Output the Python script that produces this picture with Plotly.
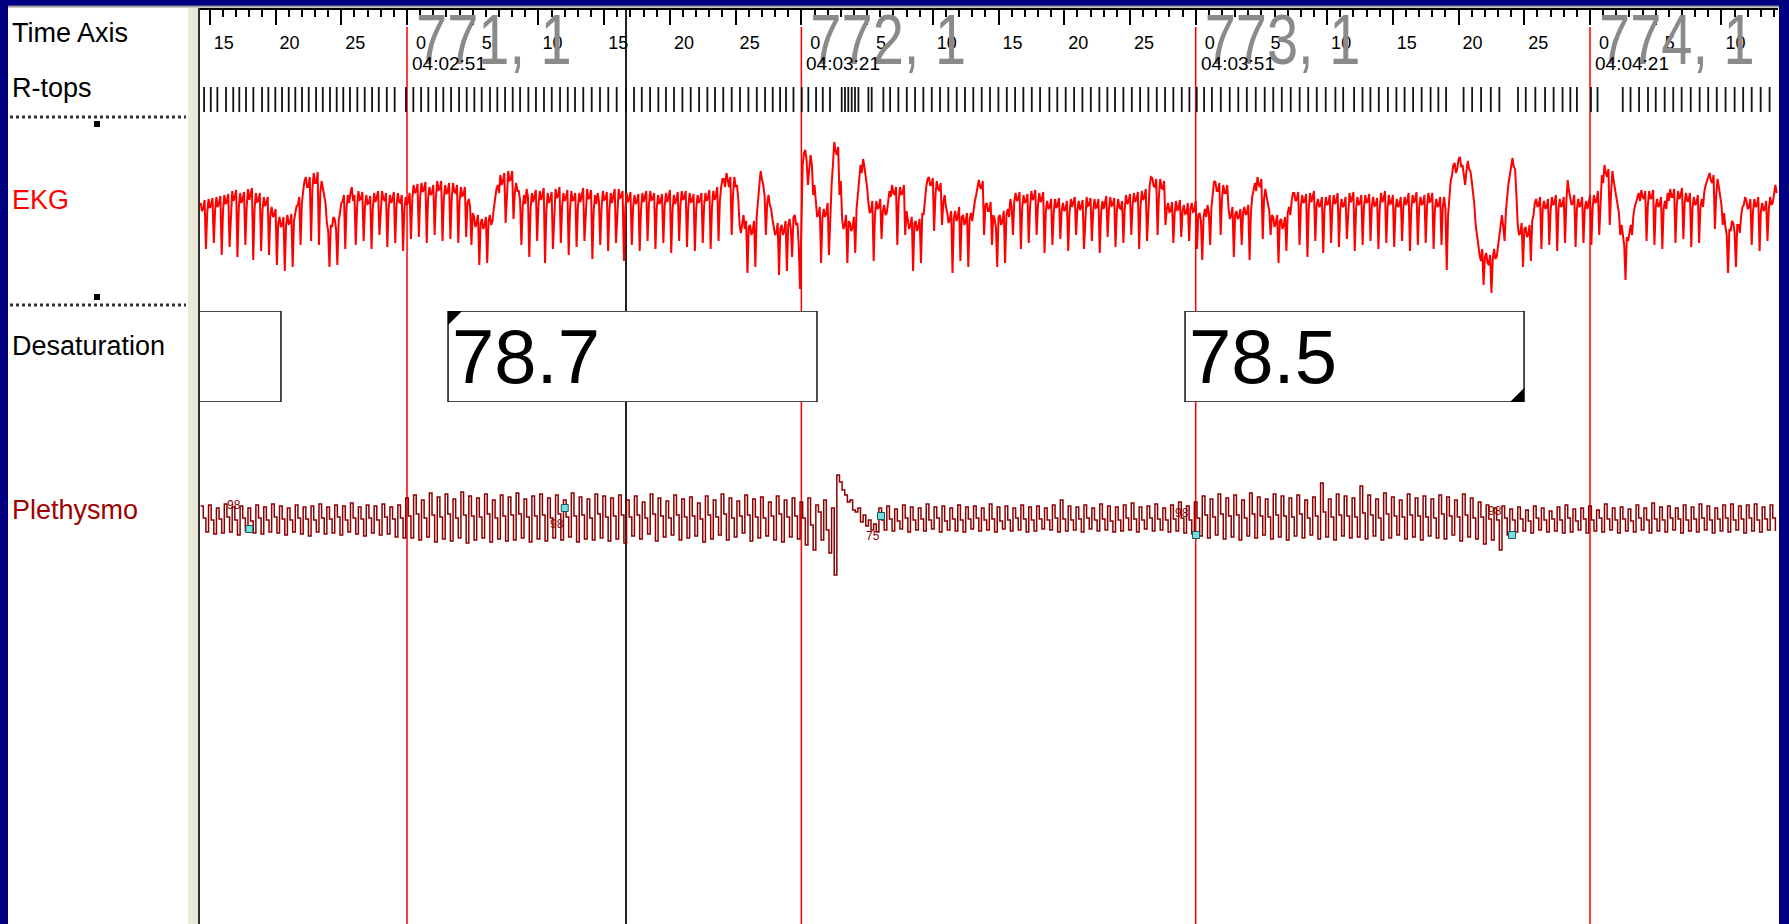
import numpy as np
import plotly.graph_objects as go

W, H = 1789, 924


def px(x):
    return x / W


def py(y):
    return 1 - y / H


# ---------------- data ----------------
ekg_step = 0.1             # s between EKG samples
pleth_step = 0.2           # s between plethysmogram samples
t_first = -15.7            # s relative to 04:02:51

ekg_values = [
    2, -6, -4, 5, -44, -8, 6, -3, 0, 7, -38, -5, 8, -2, 2, 9, -50, -6, 10, 1, 4, 11, -42, -4, 14, 4, 8, 15, -52, -3,
    12, 2, 6, 13, -40, -2, 16, 5, 10, 17, -55, -4, 12, 3, 4, 12, -46, -6, 8, -1, 2, 8, -50, -10, -2, -12, -10, -4, -60, -18,
    -12, -22, -20, -12, -66, -20, -10, -19, -18, -9, -62, -16, -8, -1, 0, 8, -40, 2, 14, 24, 28, 18, 18, 28, -36, 16, 32, 22, 22, 33,
    -40, 12, 24, 16, 12, 2, -18, -26, -62, -20, -22, -12, -14, -24, -60, -16, -8, 2, 4, 10, -44, -2, 10, 2, 12, 18, 4, 10, -40, -2,
    14, 5, 6, 13, -36, -2, 10, 1, 2, 9, -44, -3, 12, 3, 8, 14, -30, 0, 14, 6, 4, 12, -42, -4, 10, 2, 6, 13, -38, -1,
    12, 3, 2, 10, -46, -4, 8, 0, 4, 12,
    -34, 6, 20, 12, 14, 21, -32, 8, 22, 13, 16, 23, -38, 6, 18, 10, 12, 20, -30, 8, 24, 15, 16, 24, -36, 6, 20, 11, 14, 22,
    -34, 7, 22, 13, 12, 20, -38, 4, 18, 9, 10, 18, -32, 2,
    6, -2, -40, -8, -12, -22, -18, -10, -60, -18, -14, -24, -20, -12, -58, -16, -10, -20, -16, -4, 8, 16, 20, 12, 30, 20,
    24, 32, -18, 14, 34, 24, 26, 34, -14, 12, 22, 14,
    14, 5, -40, -2, 10, 1, 16, 8, -52, -4, 12, 3, 8, 15, -36, 0, 14, 5, 10, 17, -58, -6, 12, 2, 6, 13, -44, -3, 16, 7,
    10, 18, -38, -1, 12, 4, 8, 15, -50, -5, 14, 4, 6, 12, -42, -2, 12, 3, 10, 17, -36, 0, 16, 6, 8, 15, -54, -6, 10, 1,
    12, 4, -40, -2, 14, 5, 6, 13, -46, -4, 12, 2, 10, 16, -38, -1, 16, 7, 8, 14, -56, -6,
    12, 3, 6, 13, -40, -2, 10, 1, 4, 11, -46, -5, 12, 3, 8, 14, -36, 0, 14, 5, 6, 12, -44, -3, 10, 1, 4, 11, -38, -1,
    12, 3, 8, 15, -48, -5, 10, 1, 6, 13, -36, 0, 14, 5, 8, 14, -42, -2, 12, 3, 4, 11, -46, -4, 10, 2, 6, 12, -38, -1,
    12, 4, 8, 15, -44, -2, 14, 5, 10, 18,
    -36, 4, 18, 26, 26, 18, 32, 24, 18, 28, -30, 10, 28, 18, 20, 6, -20, -28, -18, -10, -24, -16, -68, -22, -20, -30,
    -26, -16, -62, -12, 4, 20, 34, 26, 20, 10, -30, 2, 10, 0, -4, -14, -22, -30, -28, -18, -70, -24, -20, -30, -26, -16,
    -66, -20, -14, -24, -52, -12, -10, -20, -18, -40,
    -84, -20, 40, 52, 55, 44, 20, 36, 50, 40, 10, 20, -2, -12, -10, -2, -58, -14, -4, -12, -8, 2, -50, -6, 20, 40,
    63, 54, 50, 58, 10, 24, -14, -24, -20, -10, -58, -16, -18, -26, -22, -12, -48, -4, 10, 28, 40, 32, 46, 38, 30, 18,
    2, -8, -6, 4, -56, -10, 4, -4, -2, 6, -34, -6, 0, -10, -8, 4,
    14, 8, 20, 12, 10, 18, -40, 4, 18, 10, 12, 20, -30, -6, -14, -24, -20, -12, -66, -18, -16, -26, -22, -14, -58, -8,
    -10, 6, 18, 26, 28, 20, 20, 27, -26, 10, 24, 16, 14, 22, -20, 2, 10, -2, -8, -18, -14, -6, -68, -14, -6, -16,
    -12, -2, -56, -12, -10, -20, -16, -8, -62, -14, -8, -16, -4, 4, 10, 20, 25, 18, 16, 24, -30, 0, 2, -6, -6, 3,
    -40, -10, -14, -22, -62, -12, -10, -20, -16, -6, -58, -10, -4, -12, 6, -2, -30, 4,
    12, 4, 6, 13, -44, -3, 10, 2, 4, 11, -38, -2, 14, 5, 8, 15, -30, 0, 12, 3, 6, 13, -48, -6,
    4, -4, -2, 6, -40, -8, 6, -3, 0, 7, -34, -6, 2, -6, -4, 4, -46, -8, 6, -2, 2, 8, -30, -4, 4, -5, -2, 5, -44, -8,
    8, -1, 0, 7, -36, -6, 6, -3, -2, 6, -48, -8, 4, -4, 2, 9, -32, -4, 8, -1, 0, 7, -42, -6, 6, -3, -4, 4, -38, -4,
    10, 1, 4, 11, -30, 0, 12, 3, 6, 13, -44, -2, 14, 5, 8, 16, -36, 2,
    20, 28, 27, 19, 18, 26, -30, 8, 26, 17, 16, 24, -20, -4, 2, -7, -6, 3, -38, -8, 4, -5, -4, 5, -32, -6, 0, -9, -8, 2,
    -36, -4, 2, -7, -6, 4, -44, -10, -8, -16, -55, -12, -4, -12, 0, -8, -40, -2, 16, 24, 23, 14, 14, 22, -30, 6,
    20, 12, 12, 20, -4, -14, -10, -2, -52, -10, -6, -14, -12, -4, -40, -8, -2, -10, -8, 0, -55, -8, 8, 16,
    22, 14, 28, 20, 18, 26, -34, 6, 16, 8, 2, -6, -30, -10, -12, -22, -18, -10, -58, -16, -14, -24, -20, -12, -46, -8,
    -2, -10, 4, 12, 12, 4, 6, 13, -40, -2, 10, 2, 4, 11, -52, -4, 12, 3, 8, 14, -36, 0, 6, -2, 0, 8, -48, -4,
    8, 0, 2, 10, -38, -2, 10, 1, 4, 12, -42, -4, 6, -2, 0, 8, -34, -2, 12, 3, 6, 13, -46, -4, 8, 0, 2, 10, -40, -2,
    10, 2, 4, 11, -36, -1, 8, -1, 0, 7, -44, -4, 12, 3, 6, 14, -38, -2, 10, 1, 2, 10, -42, -4, 6, -2, 0, 8, -36, -2,
    8, 0, 4, 12, -46, -4, 10, 2, 6, 13, -40, -2, 8, 0, 2, 10, -38, -2, 12, 3, 4, 12, -44, -4, 6, -2, 0, 8, -40, -2, 8, -4,
    -65, -10, 10, 24, 30, 40, 42, 32, 36, 46, 48, 38, 40, 30, 20, 34, 44, 36, 34, 24, 12, 0, -20, -32,
    -40, -50, -56, -44, -80, -52, -48, -58, -60, -50, -88, -54, -44, -54, -52, -40,
    -30, -18, -10, -22, -36, -6, 10, 22, 30, 40, 47, 38,
    36, 10, -20, -30, -28, -18, -62, -24, -22, -32, -30, -20, -56, -16, -10, 2,
    6, -2, 0, 8, -44, -4, 4, -4, -2, 6, -40, -6, 8, 0, 2, 10, -46, -4, 6, -2, 0, 8, -38, 4, 25, 14,
    8, 0, 2, 10, -42, -4, 6, -2, 0, 8, -38, -4, 4, -4,
    2, 10, -40, -2, 10, 2, 4, 14, -30, 6, 30, 22, 40, 32, 28, 36, -20, 12, 34, 24, 16, 6, 0, -8, -30, -20,
    -30, -40, -75, -32, -36, -26, -20, -30, -10, -2, 2, 8, 12, 4, 15, 8, 6, 14, -36, 0, 14, 6, 8, 15,
    -40, -2, 6, -2, 0, 8, -44, -4, 4, -4, 12, 4, 16, 8, 8, 16, -38, 0, 14, 6, 10, 17, -34, 2, 12, 4,
    4, 12, -42, -2, 8, 0, 2, 10, -38, -2, 6, -2, 14, 20, 24, 30, 32, 24, 22, 30, -24, 10, 26, 18, 10, 0, -20, -8,
    -22, -30, -68, -24, -26, -16, -18, -28, -62, -20, -20, -28, -10, -2, 0, 8,
    4, -4, -2, 6, -40, -6, 6, -2, 0, 8, -46, -6, 2, -6, -4, 4, -36, -4, 8, 0, 2, 10, 20, 12,
]

pleth_values = [
    14, 2, -12, 15, 0, -14, 12, 1, -13, 16, 3, -12, 13, 0, -15, 14, 2, -11, 12, -1, -13, 15, 2, -14, 13, 0, -12,
    16, 3, -13, 14, 1, -15, 12, 0, -12, 15, 2, -14, 13, 1, -16, 14, 0, -12, 16, 2, -14, 13, 1, -13, 15, 3, -15,
    14, 0, -12, 17, 2, -14, 13, 1, -16, 15, 2, -13, 14, 0, -15, 16, 3, -14, 13, 1, -17, 15, 2, -18,
    22, 4, -18, 25, 6, -20, 20, 2, -17, 27, 5, -22, 23, 3, -19, 26, 6, -21, 21, 2, -18, 28, 5, -23, 24, 4, -20,
    22, 3, -18, 26, 6, -22, 20, 2, -19, 25, 4, -21, 23, 5, -20, 27, 6, -18, 21, 3, -22, 24, 4, -19, 26, 5, -21,
    22, 2, -18, 25, 6, -20, 20, 3, -17, 27, 4, -22, 23, 5, -19, 21, 2, -20, 26, 6, -18, 24, 3, -21, 22, 4, -19, 25, 5, -23,
    20, 3, -16, 24, 5, -19, 18, 2, -14, 26, 6, -21, 22, 4, -17, 19, 2, -15, 25, 5, -20, 21, 3, -18, 23, 4, -16,
    17, 1, -22, 24, 5, -19, 20, 3, -15, 26, 6, -20, 22, 2, -17, 19, 4, -13, 25, 5, -21, 21, 3, -18, 23, 2, -16,
    18, 4, -20, 24, 6, -22, 20, 3, -17, 22, 4, -19,
    18, 2, -25, 22, -5, -30, 15, 8, -20, 20, -10, -33, 12, -55, 45,
    38, 30, 25, 18, 20, 10, 8, 12, -2, 5, -6, 0, -10, -4, -12,
    12, 0, -10, 14, 1, -11, 11, -1, -9, 15, 2, -12, 13, 0, -10, 12, 1, -11, 16, 0, -9, 13, 2, -12, 14, -1, -10,
    12, 1, -11, 15, 0, -12, 13, 1, -9, 14, 2, -11, 12, 0, -10, 16, 1, -12, 13, -1, -9, 14, 0, -11, 12, 2, -10,
    15, 1, -12, 13, 0, -11, 14, 1, -9, 12, 0, -10, 15, 2, -12, 20, 1, -11, 14, 0, -10, 13, 1, -12, 15, 2, -9,
    12, 0, -11, 16, 1, -10, 14, -1, -12, 13, 0, -11, 15, 2, -10, 17, 1, -12, 13, 0, -9, 14, 2, -11, 16, 1, -10,
    12, 0, -12, 15, 1, -11, 18, 2, -13, 14, 0, -14,
    18, 2, -16, 24, 5, -18, 21, 3, -15, 26, 6, -19, 22, 4, -17, 25, 5, -20, 20, 2, -16, 27, 6, -18, 23, 4, -15,
    21, 3, -19, 26, 5, -17, 24, 4, -20, 22, 3, -16, 25, 6, -18, 20, 2, -15, 23, 4, -19, 37, 8, -17, 21, 3, -20,
    26, 5, -16, 24, 4, -18, 22, 3, -17, 34, 7, -19, 25, 5, -16, 21, 2, -20, 27, 6, -18, 23, 4, -15, 20, 3, -19,
    26, 5, -17, 22, 4, -20, 24, 3, -16, 21, 2, -18, 25, 6, -19, 23, 4, -15, 20, 3, -21, 26, 5, -17, 22, 2, -19,
    18, 3, -24, 15, 1, -20, 12, 0, -30, 14, 2, -15,
    11, 0, -12, 13, 1, -11, 10, -1, -13, 14, 2, -10, 12, 0, -12, 9, 1, -11, 13, 0, -13, 15, 2, -12, 11, -1, -10,
    12, 1, -13, 14, 0, -11, 10, 2, -12, 16, 1, -10, 12, 0, -13, 13, 1, -11, 11, -1, -12, 15, 2, -10, 12, 0, -13,
    17, 1, -11, 13, 0, -12, 14, 2, -10, 12, 1, -13, 15, 0, -11, 13, 1, -12, 16, 2, -10, 14, 0, -13, 12, 1, -11,
    15, 2, -12, 16, 0, -10, 14, 1, -13, 15, 2, -11, 16, 0, -12, 13, 1, -10, 15, 2, -11,
]

rtop_times = [
    -15.44, -14.93, -14.43, -13.77, -13.22, -12.76, -12.25, -11.69, -11.03, -10.55, -10.02, -9.51, -9.00, -8.50,
    -7.99, -7.48, -6.92, -6.41, -5.86, -5.35, -4.85, -4.34, -3.78, -3.22, -2.66, -2.15, -1.54, -0.94, -0.08,
    0.48, 1.07, 1.62, 2.21, 2.76, 3.35, 3.96, 4.54, 5.12, 5.68, 6.31, 6.87, 7.46, 8.04, 8.60, 9.23, 9.81, 10.42,
    11.01, 11.64, 12.23, 12.78, 13.41, 14.05, 14.68, 15.31, 15.95, 16.66, 17.27, 17.86, 18.49, 19.12, 19.70,
    20.31, 20.95, 21.58, 22.22, 22.85, 23.43, 24.06, 24.70, 25.33, 25.97, 26.61, 27.24, 27.82, 28.38, 28.83,
    29.40, 30.03, 30.53, 31.12, 31.63, 32.18, 33.07, 33.32, 33.57, 33.83, 34.08, 34.34, 35.10, 35.35, 36.24,
    36.75, 37.38, 38.02, 38.65, 39.28, 39.92, 40.55, 41.18, 41.82, 42.45, 43.08, 43.72, 44.35, 44.99, 45.63,
    46.26, 46.89, 47.53, 48.16, 48.87, 49.47, 50.11, 50.75, 51.38, 52.02, 52.67, 53.28, 53.86, 54.50, 55.14,
    55.77, 56.40, 57.04, 57.67, 58.30, 58.94, 59.52, 60.08, 60.64, 61.23, 61.91, 62.59, 63.24, 63.89, 64.57,
    65.25, 65.90, 66.55, 67.23, 67.91, 68.56, 69.21, 69.89, 70.63, 71.22, 72.05, 72.69, 73.29, 73.93, 74.62,
    75.27, 75.89, 76.54, 77.19, 77.87, 78.46, 79.05, 80.38, 81.03, 81.71, 82.45, 83.10, 84.52, 85.11, 85.84,
    86.58, 87.23, 87.91, 88.50, 89.00, 90.07, 90.57, 92.49, 93.08, 93.73, 94.41, 95.00, 95.68, 96.33, 96.97,
    97.66, 98.34, 98.99, 99.64, 100.31, 101.00, 101.65, 102.30, 102.98, 103.66,
]

epoch_start = [0, 30, 60, 90]
epoch_number = [771, 772, 773, 774]
epoch_page = [1, 1, 1, 1]
epoch_clock = ["04:02:51", "04:03:21", "04:03:51", "04:04:21"]

tick_values = [-15, -10, -5, 0, 5, 10, 15, 20, 25, 30, 35, 40, 45, 50, 55, 60, 65, 70, 75, 80, 85, 90, 95, 100]
tick_labels = ["15", "20", "25", "0", "5", "10", "15", "20", "25", "0", "5", "10",
               "15", "20", "25", "0", "5", "10", "15", "20", "25", "0", "5", "10"]

desat_start = [-30.0, 3.12, 59.19]
desat_end = [-9.59, 31.19, 84.98]
desat_value = [None, 78.7, 78.5]
desat_flag = ["", "start", "end"]

spo2_times = [-12.0, 12.0, 36.06, 60.03, 84.07]
spo2_level = [-9, 12, 4, -15, -15]
spo2_labels = ["98", "98", "75", "98", "98"]

cursor_time = 16.66
x_range = [-15.75, 104.3]

channel_labels = ["Time Axis", "R-tops", "EKG", "Desaturation", "Plethysmo"]
channel_colors = ["#000000", "#000000", "#ff0000", "#000000", "#a00000"]

# ---------------- figure ----------------
FONT = "Liberation Sans, Arial, sans-serif"
t_ekg = t_first + ekg_step * np.arange(len(ekg_values))
t_pleth = t_first + pleth_step * np.arange(len(pleth_values))

fig = go.Figure()

# large grey epoch numbers (behind tick labels)
fig.add_trace(go.Scatter(
    x=epoch_start, y=[0.5] * len(epoch_start), yaxis="y5", mode="text",
    text=[f"{n}, {p}" for n, p in zip(epoch_number, epoch_page)],
    textposition="middle right",
    textfont=dict(size=70, color="#8a8a8a", family=FONT),
    hoverinfo="skip", showlegend=False, cliponaxis=False,
))

# R-tops
rx, ry = [], []
for t in rtop_times:
    rx += [t, t, None]
    ry += [0, 1, None]
fig.add_trace(go.Scatter(x=rx, y=ry, yaxis="y4", mode="lines",
                         line=dict(color="#111111", width=1.8),
                         hoverinfo="skip", showlegend=False))

# EKG
fig.add_trace(go.Scatter(x=t_ekg, y=ekg_values, yaxis="y", mode="lines",
                         line=dict(color="#ff0000", width=2),
                         hoverinfo="skip", showlegend=False))

# Plethysmo
fig.add_trace(go.Scatter(x=t_pleth, y=pleth_values, yaxis="y2", mode="lines",
                         line=dict(color="#8b0000", width=1.5, shape="hv"),
                         hoverinfo="skip", showlegend=False))

fig.add_trace(go.Scatter(x=spo2_times, y=spo2_level, yaxis="y2", mode="markers",
                         marker=dict(symbol="square", size=7, color="#6fe3e3",
                                     line=dict(color="#205050", width=1)),
                         hoverinfo="skip", showlegend=False))

shapes = []
# white window
shapes.append(dict(type="rect", xref="paper", yref="paper", x0=px(8), x1=px(1779), y0=0, y1=py(7),
                   fillcolor="white", line=dict(width=0), layer="below"))
shapes.append(dict(type="line", xref="paper", yref="paper", x0=px(8), x1=px(1779), y0=py(6.5), y1=py(6.5),
                   line=dict(color="#9a9a9a", width=2), layer="below"))
# label panel separator
shapes.append(dict(type="rect", xref="paper", yref="paper", x0=px(188), x1=px(198), y0=0, y1=py(8),
                   fillcolor="#ece9d8", line=dict(width=0), layer="below"))
shapes.append(dict(type="line", xref="paper", yref="paper", x0=px(199), x1=px(199), y0=0, y1=py(8),
                   line=dict(color="#303030", width=2), layer="below"))
# dotted channel separators in label panel
for yy in [117, 305]:
    shapes.append(dict(type="line", xref="paper", yref="paper", x0=px(10), x1=px(186), y0=py(yy), y1=py(yy),
                       line=dict(color="#333333", width=3, dash="dot"), layer="below"))
shapes.append(dict(type="rect", xref="paper", yref="paper", x0=px(94), x1=px(100), y0=py(127), y1=py(121),
                   fillcolor="black", line=dict(width=0), layer="below"))
shapes.append(dict(type="rect", xref="paper", yref="paper", x0=px(94), x1=px(100), y0=py(300), y1=py(294),
                   fillcolor="black", line=dict(width=0), layer="below"))
# epoch boundaries
for t in epoch_start:
    shapes.append(dict(type="line", xref="x", yref="paper", x0=t, x1=t, y0=0, y1=py(27),
                       line=dict(color="#ff0000", width=1.5), layer="below"))
# desaturation events
for s, e in zip(desat_start, desat_end):
    shapes.append(dict(type="rect", xref="x", yref="y3", x0=s, x1=e, y0=0, y1=1,
                       fillcolor="white", line=dict(color="#111111", width=1.5), layer="below"))
for s, e, f in zip(desat_start, desat_end, desat_flag):
    if f == "start":
        shapes.append(dict(type="path", xref="x", yref="y3", xsizemode="pixel", ysizemode="pixel",
                           xanchor=s, yanchor=1, path="M0,0 L14,0 L0,-14 Z",
                           fillcolor="black", line=dict(width=0), layer="below"))
    elif f == "end":
        shapes.append(dict(type="path", xref="x", yref="y3", xsizemode="pixel", ysizemode="pixel",
                           xanchor=e, yanchor=0, path="M0,0 L-14,0 L0,14 Z",
                           fillcolor="black", line=dict(width=0), layer="below"))
# cursor
shapes.append(dict(type="line", xref="x", yref="paper", x0=cursor_time, x1=cursor_time, y0=0, y1=py(9),
                   line=dict(color="#222222", width=2), layer="below"))

annotations = []
label_y = [33, 88, 200, 346, 510]
for lab, col, yy in zip(channel_labels, channel_colors, label_y):
    annotations.append(dict(text=lab, xref="paper", yref="paper", x=px(10), y=py(yy),
                            xanchor="left", yanchor="middle", showarrow=False,
                            font=dict(size=27, color=col, family=FONT)))
for t, c in zip(epoch_start, epoch_clock):
    annotations.append(dict(text=c, xref="x", yref="paper", x=t, y=py(64), xanchor="left",
                            yanchor="middle", xshift=3, showarrow=False,
                            font=dict(size=19, color="black", family=FONT)))
for s, v in zip(desat_start, desat_value):
    if v is not None:
        annotations.append(dict(text=f"{v}", xref="x", yref="y3", x=s, y=0.5, xanchor="left",
                                yanchor="middle", xshift=2, showarrow=False,
                                font=dict(size=76, color="black", family=FONT)))
label_offsets = [(-15, 24), (-8, -16), (-8, -20), (-14, 22), (-17, 24)]
for t, lv, lab, (dx, dy) in zip(spo2_times, spo2_level, spo2_labels, label_offsets):
    annotations.append(dict(text=lab, xref="x", yref="y2", x=t, y=lv, xshift=dx, yshift=dy,
                            showarrow=False, font=dict(size=12, color="#8b0000", family=FONT)))


def hidden_axis(domain, rng):
    return dict(domain=domain, range=rng, visible=False, fixedrange=True, anchor="x")


fig.update_layout(
    width=W, height=H,
    margin=dict(l=0, r=0, t=0, b=0),
    paper_bgcolor="#000080",
    plot_bgcolor="rgba(0,0,0,0)",
    showlegend=False,
    font=dict(family=FONT),
    xaxis=dict(
        range=x_range, domain=[px(200), px(1778)], anchor="free", position=py(9), side="bottom",
        showline=True, linecolor="black", linewidth=2,
        ticks="outside", ticklen=15, tickwidth=1.5, tickcolor="black",
        tickmode="array", tickvals=tick_values, ticktext=tick_labels,
        tickfont=dict(size=18, color="black", family=FONT),
        ticklabelshift=14, ticklabelstandoff=2,
        minor=dict(ticks="outside", ticklen=7, tickwidth=1.5, tickcolor="black",
                   dtick=1, tick0=0, showgrid=False),
        showgrid=False, zeroline=False, fixedrange=True,
    ),
    yaxis=hidden_axis([py(300), py(130)], [-95, 75]),
    yaxis2=hidden_axis([py(580), py(470)], [-60, 50]),
    yaxis3=hidden_axis([py(402), py(311)], [0, 1]),
    yaxis4=hidden_axis([py(112), py(87)], [0, 1]),
    yaxis5=hidden_axis([py(78), py(15)], [0, 1]),
    shapes=shapes,
    annotations=annotations,
)

post = (
    "document.body.style.margin='0px';document.body.style.overflow='hidden';"
    "document.querySelectorAll('g.textpoint text').forEach(function(el){"
    "el.style.transformBox='fill-box';el.style.transformOrigin='0% 50%';"
    "el.style.transform='translateX(9px) scaleX(0.8)';});"
)
fig.write_html("out.html", config={"displayModeBar": False}, post_script=post)
